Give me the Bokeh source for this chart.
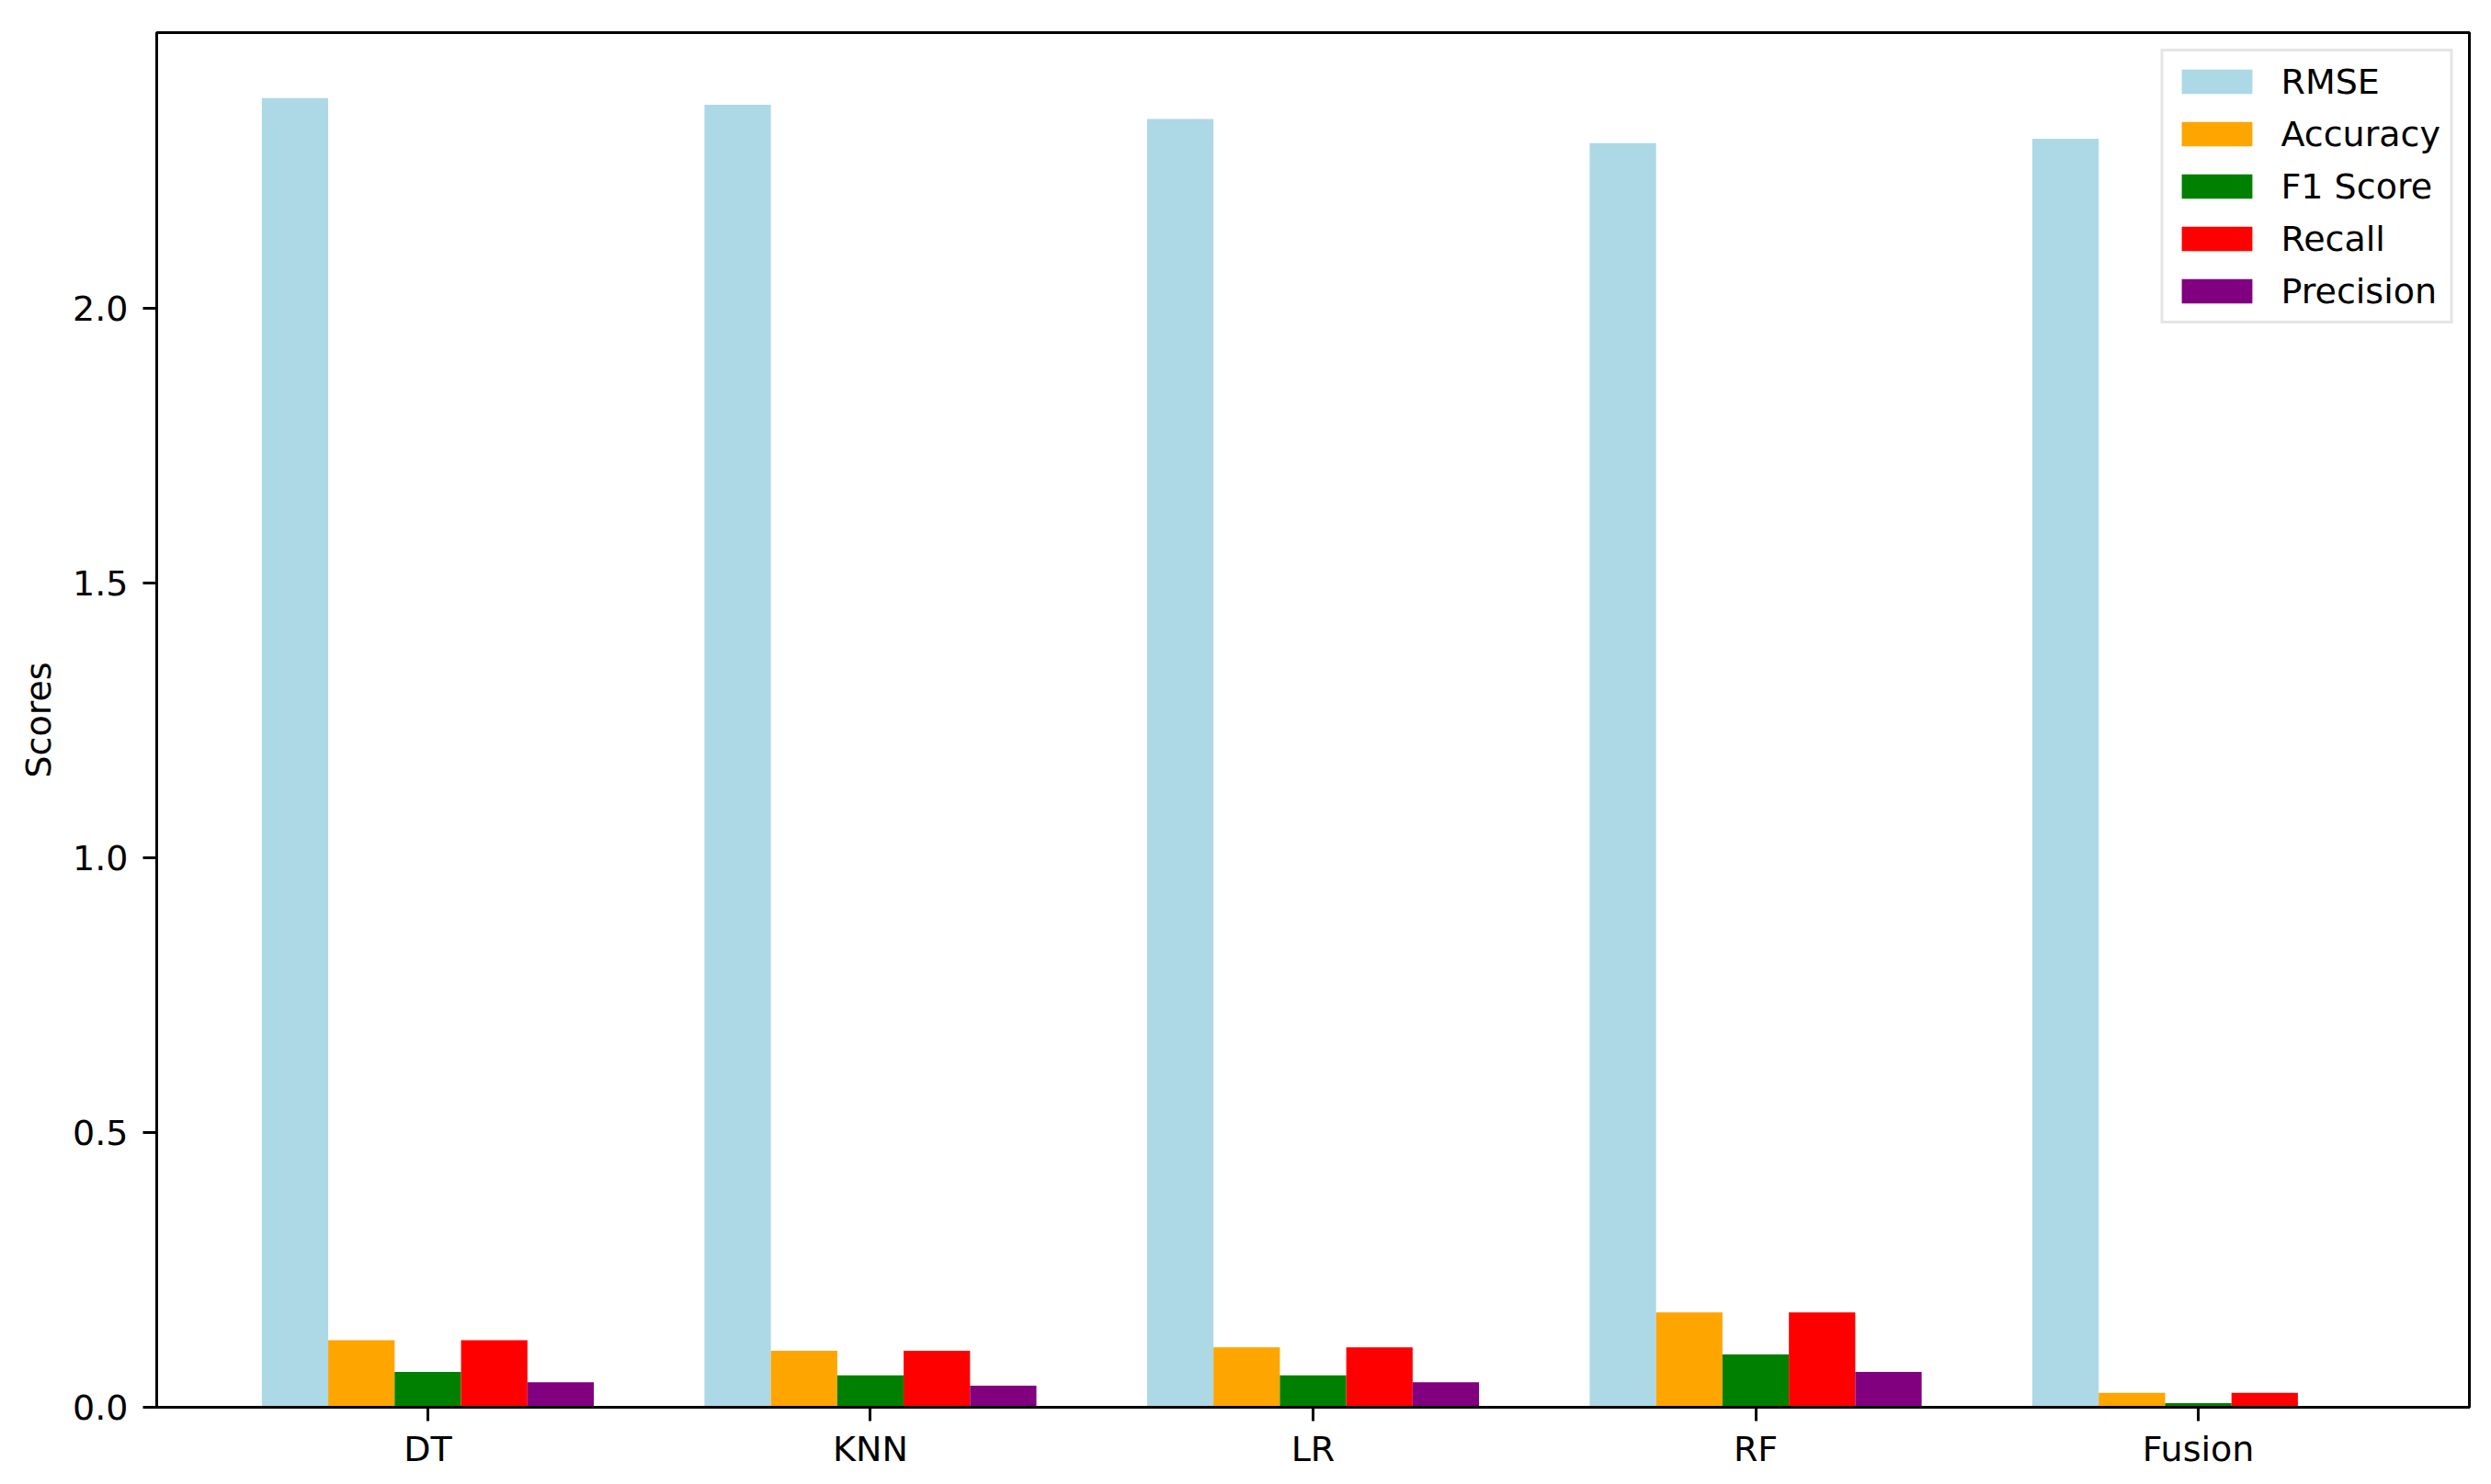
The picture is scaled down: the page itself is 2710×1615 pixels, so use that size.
import numpy as np
from bokeh.plotting import figure
from bokeh.models import Range1d, FixedTicker, NumeralTickFormatter
from bokeh.embed import file_html
from bokeh.resources import INLINE

# データ
models = ['DT', 'KNN', 'LR', 'RF', 'Fusion']
rmse = [2.383, 2.371, 2.345, 2.301, 2.309]
accuracy = [0.122, 0.103, 0.109, 0.1725, 0.0264]
f1_score = [0.0643, 0.0582, 0.0580, 0.0961, 0.0075]
recall = [0.122, 0.103, 0.109, 0.1725, 0.0264]
precision = [0.0454, 0.0393, 0.0454, 0.0643, 0.0]

metric_names = ['RMSE', 'Accuracy', 'F1 Score', 'Recall', 'Precision']
metric_colors = ['lightblue', 'orange', 'green', 'red', 'purple']
y_ticks = [0.0, 0.5, 1.0, 1.5, 2.0]

FONT = 'DejaVu Sans'
FS = '38px'

x = np.arange(len(models))
bar_w = 0.15

p = figure(width=2702, height=1607, output_backend='svg', toolbar_location=None,
           x_range=Range1d(-0.6125, 4.6125), y_range=Range1d(0, max(rmse) * 1.05),
           min_border_left=170, min_border_right=16, min_border_top=35, min_border_bottom=76)

series = [rmse, accuracy, f1_score, recall, precision]
for i, vals in enumerate(series):
    p.vbar(x=x + (i - 2) * bar_w, top=vals, width=bar_w, bottom=0,
           fill_color=metric_colors[i], line_color=None, legend_label=metric_names[i])

p.xgrid.visible = False
p.ygrid.visible = False
p.background_fill_color = 'white'
p.border_fill_color = 'white'
p.outline_line_color = 'black'
p.outline_line_width = 3

# 軸
p.xaxis.ticker = FixedTicker(ticks=list(x))
p.xaxis.major_label_overrides = {int(i): m for i, m in zip(x, models)}
p.xaxis.minor_tick_line_color = None
p.xaxis.major_tick_out = 15
p.xaxis.major_tick_in = 0
p.xaxis.major_label_standoff = 8

p.yaxis.ticker = FixedTicker(ticks=y_ticks)
p.yaxis.formatter = NumeralTickFormatter(format='0.0')
p.yaxis.minor_tick_line_color = None
p.yaxis.major_tick_out = 15
p.yaxis.major_tick_in = 0
p.yaxis.major_label_standoff = 16
p.yaxis.axis_label = 'Scores'
p.yaxis.axis_label_standoff = 12
p.yaxis.axis_label_text_font = FONT
p.yaxis.axis_label_text_font_size = FS
p.yaxis.axis_label_text_font_style = 'normal'
p.yaxis.axis_label_text_color = 'black'

for ax in [p.xaxis, p.yaxis]:
    ax.axis_line_color = 'black'
    ax.axis_line_width = 3
    ax.major_tick_line_color = 'black'
    ax.major_tick_line_width = 3
    ax.major_label_text_font = FONT
    ax.major_label_text_font_size = FS
    ax.major_label_text_color = 'black'

# 凡例
p.legend.location = 'top_right'
p.legend.margin = 18
p.legend.padding = 10
p.legend.spacing = 12
p.legend.glyph_width = 96
p.legend.glyph_height = 33
p.legend.label_height = 45
p.legend.label_standoff = 22
p.legend.label_text_font = FONT
p.legend.label_text_font_size = FS
p.legend.label_text_color = 'black'
p.legend.border_line_color = '#cccccc'
p.legend.border_line_width = 3
p.legend.background_fill_color = 'white'
p.legend.background_fill_alpha = 0.8

open('out.html', 'w').write(file_html(p, INLINE))
